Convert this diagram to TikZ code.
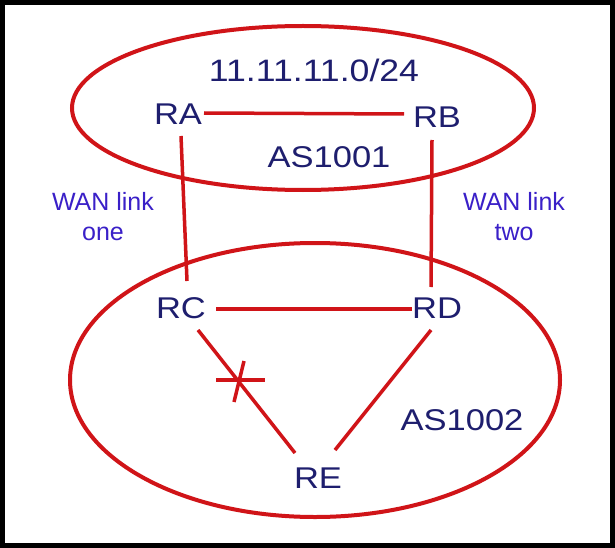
\documentclass[tikz,border=0pt]{standalone}
\usepackage{fontspec}
\setmainfont[FakeStretch=1.15]{Liberation Sans}
\newfontfamily\wanfont{Liberation Sans}
\begin{document}
\begin{tikzpicture}[x=1pt,y=-1pt,
  lab/.style={text=navy, font=\fontsize{30}{32}\selectfont, inner sep=0pt},
  wan/.style={text=wanblue, font=\wanfont\fontsize{25}{30}\selectfont, align=center, inner sep=0pt},
  link/.style={draw=linkred, line width=3.5pt},
  area/.style={draw=linkred, line width=4pt}]
\definecolor{navy}{HTML}{1E1E6E}
\definecolor{wanblue}{HTML}{3A20C8}
\definecolor{linkred}{HTML}{D01418}
\fill[black] (0,0) rectangle (615,548);
\fill[white] (5,5) rectangle (610,543);
\useasboundingbox (0,0) rectangle (615,548);
% areas
\draw[area] (303,108) ellipse [x radius=231, y radius=82];
\draw[area] (315,380) ellipse [x radius=245, y radius=137];
% labels
\node[lab, font=\fontsize{31}{33}\selectfont] (net) at (314,70) {11.11.11.0/24};
\node[lab] (RA) at (178,114) {RA};
\node[lab] (RB) at (437,117) {RB};
\node[lab] (as1) at (329,157) {AS1001};
\node[lab] (RC) at (181,308) {RC};
\node[lab] (RD) at (437,308) {RD};
\node[lab] (as2) at (462,420) {AS1002};
\node[lab] (RE) at (318,478) {RE};
\node[wan] (w1) at (103,217) {WAN link\\one};
\node[wan] (w2) at (514,217) {WAN link\\two};
% links
\coordinate (a1) at (204,113); \coordinate (b1) at (404,114);
\draw[link] (a1) -- (b1);
\coordinate (a2) at (181,136); \coordinate (c1) at (187,281);
\draw[link] (a2) -- (c1);
\coordinate (b2) at (432,140); \coordinate (d1) at (431,287);
\draw[link] (b2) -- (d1);
\coordinate (c2) at (216,309); \coordinate (d2) at (412,309);
\draw[link] (c2) -- (d2);
\coordinate (c3) at (198,330); \coordinate (e1) at (295,453);
\draw[link] (c3) -- (e1);
\coordinate (d3) at (431,330); \coordinate (e2) at (335,450);
\draw[link] (d3) -- (e2);
% break mark
\coordinate (x1) at (216,380); \coordinate (x2) at (265,380);
\coordinate (x3) at (244,361); \coordinate (x4) at (234,402);
\draw[link] (x1) -- (x2);
\draw[link] (x3) -- (x4);
\end{tikzpicture}
\end{document}
